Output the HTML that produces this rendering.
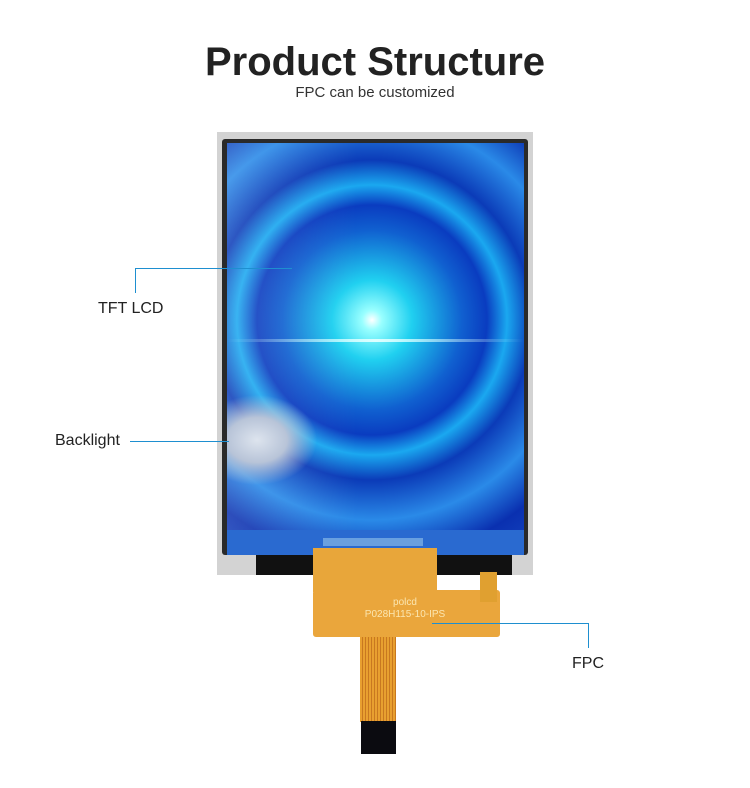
<!DOCTYPE html>
<html><head><meta charset="utf-8"><style>
body{margin:0;width:750px;height:788px;background:#fff;position:relative;overflow:hidden;font-family:"Liberation Sans",sans-serif}
.a{position:absolute}
</style></head><body>
<div class="a" style="left:0;width:750px;top:40px;text-align:center;font-size:40px;font-weight:bold;color:#222">Product Structure</div>
<div class="a" style="left:0;width:750px;top:84px;text-align:center;font-size:15px;color:#333">FPC can be customized</div>

<div class="a" style="left:217px;top:132px;width:316px;height:443px;background:#d3d3d3"></div>
<div class="a" style="left:222px;top:139px;width:306px;height:416px;background:#2a2a2a;border-radius:3px"></div>
<div class="a" style="left:256px;top:553px;width:256px;height:22px;background:#111"></div>
<div class="a" style="left:227px;top:143px;width:297px;height:387px;background:radial-gradient(circle at 145px 177px,#ffffff 0,#9ff 10px,#20d0f0 40px,#1060d0 90px,#0a3cc0 115px,#1aa8f0 135px,#0b3bb8 160px,#2a8ae8 200px,#0a30b0 240px,#1a50c8 300px)"></div>
<div class="a" style="left:227px;top:143px;width:130px;height:387px;background:linear-gradient(90deg,rgba(255,255,255,.15),rgba(255,255,255,0))"></div>
<div class="a" style="left:227px;top:339px;width:297px;height:3px;background:linear-gradient(90deg,rgba(200,255,255,0),#dff,rgba(200,255,255,0))"></div>
<div class="a" style="left:227px;top:380px;width:110px;height:120px;background:radial-gradient(ellipse at 30px 60px,#dde4ee 0,#b8c4d8 30px,rgba(180,190,210,0) 60px)"></div>
<div class="a" style="left:227px;top:530px;width:297px;height:25px;background:#2a6ad0"></div>
<div class="a" style="left:323px;top:538px;width:100px;height:8px;background:#6aa0e0"></div>

<div class="a" style="left:313px;top:548px;width:124px;height:44px;background:#e8a63a"></div>
<div class="a" style="left:313px;top:590px;width:187px;height:47px;background:#eaa63c;border-radius:3px"></div>
<div class="a" style="left:480px;top:572px;width:17px;height:30px;background:#e0a030"></div>
<div class="a" style="left:360px;top:637px;width:36px;height:85px;background:repeating-linear-gradient(90deg,#e8a030 0,#e8a030 2px,#c87820 2px,#c87820 3px)"></div>
<div class="a" style="left:361px;top:721px;width:35px;height:33px;background:#0b0b10"></div>
<div class="a" style="left:340px;top:597px;width:130px;text-align:center;font-size:10px;color:#fbe6b0;line-height:12px">polcd<br>P028H115-10-IPS</div>

<svg class="a" style="left:0;top:0" width="750" height="788">
<g stroke="#1e8fd0" stroke-width="1" fill="none">
<path d="M135.5 293V268.5H292"/>
<path d="M130 441.5H229"/>
<path d="M432 623.5H588.5V648"/>
</g></svg>
<div class="a" style="left:98px;top:300px;font-size:16px;color:#222">TFT LCD</div>
<div class="a" style="left:55px;top:432px;font-size:16px;color:#222">Backlight</div>
<div class="a" style="left:572px;top:655px;font-size:16px;color:#222">FPC</div>
</body></html>
